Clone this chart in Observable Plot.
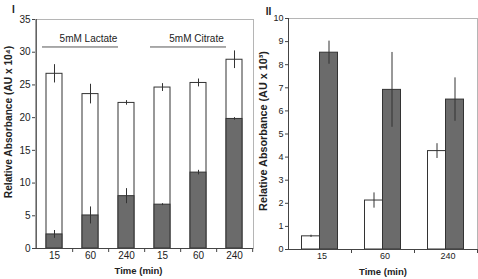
<!DOCTYPE html>
<html><head><meta charset="utf-8">
<script src="https://cdn.jsdelivr.net/npm/d3@7"></script>
<script src="https://cdn.jsdelivr.net/npm/@observablehq/plot@0.6"></script>
<style>
body{margin:0;background:#fff}
#wrap{display:flex;width:478px;height:279px;overflow:hidden}
</style>
</head><body><div id="wrap"></div>
<script>
// ---- Panel I data ----
const keys1 = ["L15","L60","L240","C15","C60","C240"];
const labels1 = ["15","60","240","15","60","240"];
const total1 = [26.7, 23.6, 22.25, 24.6, 25.3, 28.85];
const totalErr1 = [1.4, 1.5, 0.35, 0.6, 0.6, 1.35];
const dark1 = [2.15, 5.05, 8.0, 6.7, 11.6, 19.8];
const darkErr1 = [0.6, 1.3, 1.15, 0.15, 0.35, 0.2];
const groupNames = ["5mM Lactate", "5mM Citrate"];
const groupFirst = ["L15", "C15"];
const groupMid = ["L60", "C60"];
const groupLast = ["L240", "C240"];
const yTicks1 = [0,5,10,15,20,25,30,35];

// ---- Panel II data ----
const times2 = ["15","60","240"];
const white2 = [0.57, 2.12, 4.26];
const whiteErr2 = [0.05, 0.33, 0.32];
const dark2 = [8.52, 6.91, 6.49];
const darkErr2 = [0.5, 1.62, 0.94];
const yTicks2 = [0,1,2,3,4,5,6,7,8,9,10];

const FONT = '"Liberation Sans", Arial, sans-serif';
const NARROW = '"Liberation Sans Narrow", "Liberation Sans", Arial, sans-serif';
const H = 279;
const DARK = "#6b6b6b", LINE = "#333";

// ---------- Panel I ----------
const W1 = 256, ml1 = 35, mr1 = 3, mt1 = 19, mb1 = 31;
const step1 = (W1 - ml1 - mr1) / keys1.length;
const tick1 = 4 * 35 / (H - mt1 - mb1);
const d1 = keys1.map((k, i) => ({k, total: total1[i], te: totalErr1[i], dark: dark1[i], de: darkErr1[i]}));
const g1 = groupNames.map((n, i) => ({n, a: groupFirst[i], m: groupMid[i], b: groupLast[i]}));

const p1 = Plot.plot({
  width: W1, height: H,
  marginLeft: ml1, marginRight: mr1, marginTop: mt1, marginBottom: mb1,
  style: {fontFamily: NARROW, fontSize: "10px", color: "#222", background: "white", overflow: "visible"},
  x: {domain: keys1, paddingInner: 0.55, paddingOuter: 0.275, axis: null},
  y: {domain: [0, 35], axis: null},
  marks: [
    Plot.frame({stroke: "#b5b5b5"}),
    Plot.rectY(d1, {x: "k", y1: 0, y2: "total", fill: "white", stroke: LINE, strokeWidth: 1}),
    Plot.rectY(d1, {x: "k", y1: 0, y2: "dark", fill: DARK, stroke: LINE, strokeWidth: 1}),
    Plot.ruleX(d1, {x: "k", y1: d => d.total - d.te, y2: d => d.total + d.te, stroke: LINE}),
    Plot.ruleX(d1, {x: "k", y1: d => d.dark - d.de, y2: d => d.dark + d.de, stroke: LINE}),
    Plot.ruleY(g1, {x1: "a", x2: "b", y: 30.8, stroke: "#555", insetLeft: -4, insetRight: 16}),
    Plot.text(g1, {x: "m", y: 32.1, text: "n", fontSize: 10, fill: "#222", dx: -2}),
    Plot.ruleY([0], {stroke: "#444"}),
    Plot.ruleX([keys1[0]], {dx: -step1 / 2, stroke: "#444"}),
    Plot.ruleX(keys1, {dx: step1 / 2, y1: 0, y2: -tick1, stroke: "#444"}),
    Plot.axisY({ticks: yTicks1, tickSize: 3, tickPadding: 2, stroke: "#444", label: null, fontSize: 10}),
    Plot.axisX({tickFormat: (d) => labels1[keys1.indexOf(d)], tickSize: 0, tickPadding: 3, label: null, fontSize: 10}),
    Plot.text(["Relative Absorbance (AU x 10⁴)"], {frameAnchor: "left", textAnchor: "middle", rotate: -90, dx: -27, dy: -12, fontFamily: FONT, fontWeight: "bold", fontSize: 10.2}),
    Plot.text(["Time (min)"], {frameAnchor: "bottom", dx: -6, dy: 25, fontWeight: "bold", fontSize: 9.5}),
    Plot.text(["I"], {frameAnchor: "top-left", textAnchor: "middle", dx: -22, dy: -14, fontWeight: "bold", fontSize: 10})
  ]
});

// ---------- Panel II ----------
const W2 = 222, ml2 = 32, mr2 = 1, mt2 = 18, mb2 = 30;
const step2 = (W2 - ml2 - mr2) / times2.length;
const tick2 = 4 * 10 / (H - mt2 - mb2);
const barW2 = 18;
const inOuter = step2 / 2 - barW2;
const d2 = times2.map((t, i) => ({t, w: white2[i], we: whiteErr2[i], d: dark2[i], de: darkErr2[i]}));

const p2 = Plot.plot({
  width: W2, height: H,
  marginLeft: ml2, marginRight: mr2, marginTop: mt2, marginBottom: mb2,
  style: {fontFamily: FONT, fontSize: "9px", color: "#222", background: "white", overflow: "visible"},
  x: {domain: times2, padding: 0, axis: null},
  y: {domain: [0, 10], axis: null},
  marks: [
    Plot.frame({stroke: "#b5b5b5"}),
    Plot.rectY(d2, {x: "t", y1: 0, y2: "w", fill: "white", stroke: LINE, insetLeft: inOuter, insetRight: step2 / 2}),
    Plot.rectY(d2, {x: "t", y1: 0, y2: "d", fill: DARK, stroke: LINE, insetLeft: step2 / 2, insetRight: inOuter}),
    Plot.ruleX(d2, {x: "t", y1: d => d.w - d.we, y2: d => d.w + d.we, stroke: LINE, dx: -barW2 / 2}),
    Plot.ruleX(d2, {x: "t", y1: d => d.d - d.de, y2: d => d.d + d.de, stroke: LINE, dx: barW2 / 2}),
    Plot.ruleY([0], {stroke: "#444"}),
    Plot.ruleX([times2[0]], {dx: -step2 / 2, stroke: "#444"}),
    Plot.ruleX(times2, {dx: step2 / 2, y1: 0, y2: -tick2, stroke: "#444"}),
    Plot.axisY({ticks: yTicks2, tickSize: 3, tickPadding: 2, stroke: "#444", label: null, fontSize: 9}),
    Plot.axisX({tickSize: 0, tickPadding: 3, label: null, fontSize: 9, dx: 2}),
    Plot.text(["Relative Absorbance (AU x 10³)"], {frameAnchor: "left", textAnchor: "middle", rotate: -90, dx: -25, dy: -3, fontWeight: "bold", fontSize: 10.8}),
    Plot.text(["Time (min)"], {frameAnchor: "bottom", dx: 0, dy: 25, fontWeight: "bold", fontSize: 9.5}),
    Plot.text(["II"], {frameAnchor: "top-left", textAnchor: "middle", dx: -20, dy: -11, fontWeight: "bold", fontSize: 10})
  ]
});

document.getElementById("wrap").append(p1, p2);
</script>
</body></html>
